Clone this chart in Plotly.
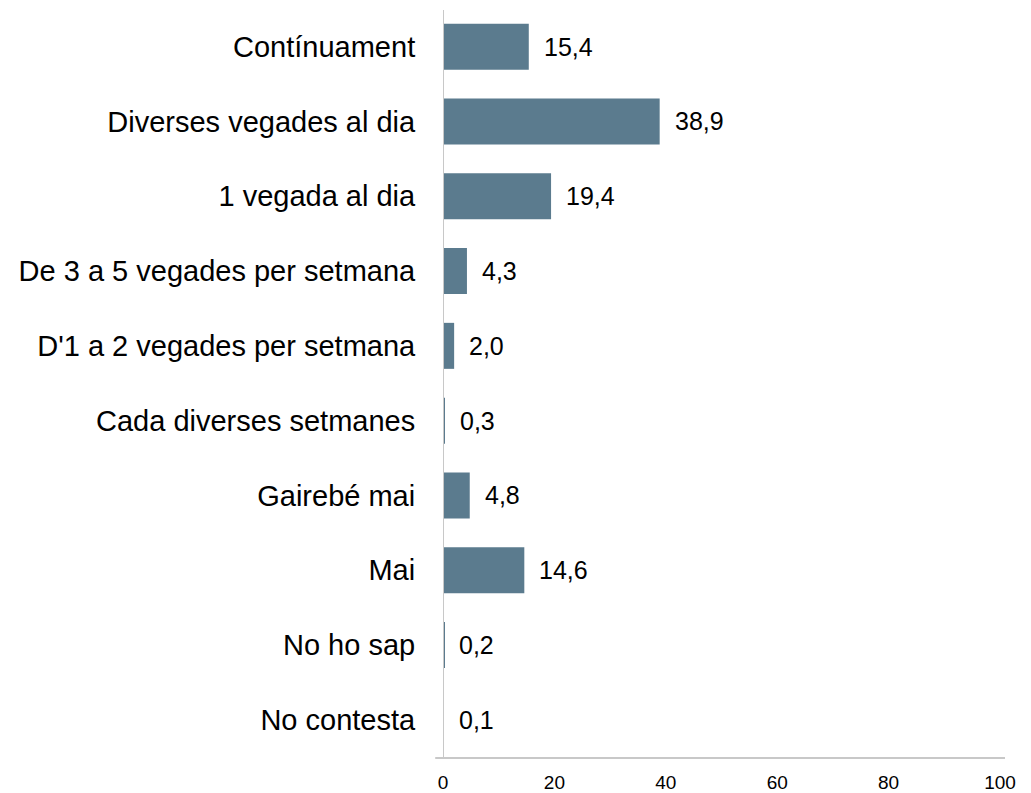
import plotly.graph_objects as go

categories = ["Contínuament", "Diverses vegades al dia", "1 vegada al dia",
              "De 3 a 5 vegades per setmana", "D'1 a 2 vegades per setmana",
              "Cada diverses setmanes", "Gairebé mai", "Mai", "No ho sap", "No contesta"]
values = [15.4, 38.9, 19.4, 4.3, 2.0, 0.3, 4.8, 14.6, 0.2, 0.1]
x_ticks = [0, 20, 40, 60, 80, 100]

BAR = "#5b7b8e"
FONT = "Liberation Sans, Arial, sans-serif"

fig = go.Figure()
fig.add_trace(go.Bar(
    y=categories, x=values, orientation="h",
    marker=dict(color=BAR, line=dict(width=0)),
    hoverinfo="skip",
))

for c, v in zip(categories, values):
    fig.add_annotation(
        x=v, y=c, xref="x", yref="y",
        text=f"{v:.1f}".replace(".", ","),
        showarrow=False, xanchor="left", xshift=13,
        font=dict(family=FONT, size=25, color="#000000"),
    )

fig.update_layout(
    width=1031, height=793,
    margin=dict(l=435, r=39, t=2, b=43),
    paper_bgcolor="white", plot_bgcolor="white",
    bargap=0.385,
    showlegend=False,
    font=dict(family=FONT, color="#000000"),
)
fig.update_xaxes(
    range=[0, 100], tickvals=x_ticks, ticktext=[str(t) for t in x_ticks],
    showgrid=False, zeroline=False, showline=False,
    ticks="outside", ticklen=7, tickcolor="rgba(0,0,0,0)",
    tickfont=dict(family=FONT, size=19, color="#000000"),
)
fig.update_yaxes(
    type="category", categoryorder="array", categoryarray=categories,
    range=[9.51, -0.49],
    showgrid=False, zeroline=False, showline=False,
    ticks="outside", ticklen=21, tickcolor="rgba(0,0,0,0)",
    tickfont=dict(family=FONT, size=29, color="#000000"),
)
fig.add_shape(type="line", xref="x", yref="paper", x0=0, x1=0, y0=0, y1=1,
              line=dict(color="#c8c8c8", width=2))
fig.add_shape(type="line", xref="paper", yref="paper", x0=-0.014, x1=1.009, y0=0, y1=0,
              line=dict(color="#c8c8c8", width=2))

fig.write_html("out.html")
